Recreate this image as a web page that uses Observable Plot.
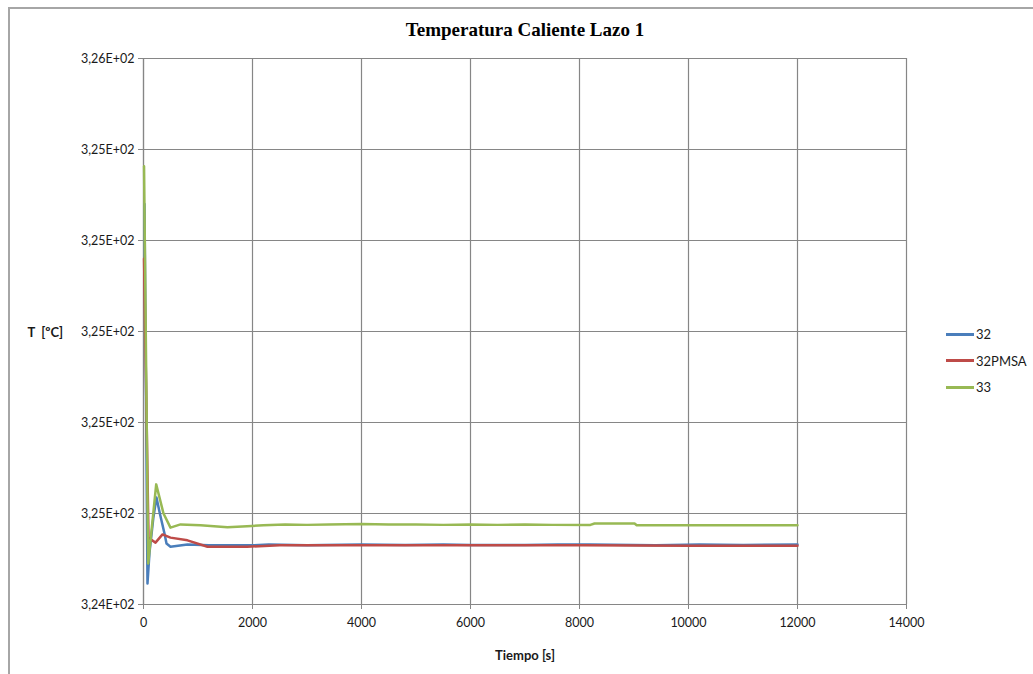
<!DOCTYPE html>
<html>
<head>
<meta charset="utf-8">
<script src="https://cdn.jsdelivr.net/npm/d3@7"></script>
<script src="https://cdn.jsdelivr.net/npm/@observablehq/plot@0.6"></script>
<style>
  html, body { margin: 0; padding: 0; background: #fff; }
  #wrap { position: relative; width: 1033px; height: 674px; overflow: hidden; }
  #frame { position: absolute; left: 8px; top: 7px; width: 1100px; height: 700px;
           border-top: 2px solid #a6a6a6; border-left: 2px solid #a6a6a6; }
  #chart { position: absolute; left: 0; top: 0; }
  #legend { position: absolute; left: 946px; top: 321px; font-family: Lato, sans-serif; font-size: 13px; color: #1a1a1a; }
  .item { display: flex; align-items: center; height: 26.5px; }
  .sw { width: 28px; height: 3px; margin-right: 2px; }
</style>
</head>
<body>
<div id="wrap">
  <div id="frame"></div>
  <div id="chart"></div>
  <div id="legend"></div>
</div>
<script>
// ---- data ----
const seriesNames = ["32", "32PMSA", "33"];
const seriesColors = ["#4a7ebb", "#be4b48", "#98b954"];

const t32 = [18, 73, 110, 180, 238, 300, 385, 422, 495, 807, 1200, 2000, 2300, 3000, 3300, 4000, 4800, 5500, 6000, 7000, 7600, 8200, 9400, 10200, 11000, 12000];
const v32 = [325.28, 324.446, 324.514, 324.59, 324.635, 324.60, 324.556, 324.534, 324.527, 324.532, 324.530, 324.530, 324.532, 324.530, 324.531, 324.532, 324.531, 324.532, 324.531, 324.531, 324.532, 324.532, 324.530, 324.532, 324.531, 324.532];

const tPMSA = [10, 92, 150, 220, 349, 495, 807, 1174, 1900, 2500, 4000, 6000, 8000, 10000, 12000];
const vPMSA = [325.16, 324.547, 324.542, 324.536, 324.554, 324.547, 324.541, 324.527, 324.527, 324.530, 324.530, 324.530, 324.530, 324.529, 324.529];

const t33 = [10, 86, 233, 367, 495, 679, 1046, 1541, 1900, 2200, 2600, 3000, 3400, 4000, 4500, 5000, 5500, 6000, 6500, 7000, 7500, 8200, 8275, 9010, 9050, 12000];
const v33 = [325.363, 324.490, 324.664, 324.600, 324.569, 324.576, 324.574, 324.570, 324.572, 324.574, 324.576, 324.575, 324.576, 324.577, 324.576, 324.576, 324.575, 324.576, 324.575, 324.576, 324.575, 324.575, 324.578, 324.578, 324.574, 324.574];

const xTicks = [0, 2000, 4000, 6000, 8000, 10000, 12000, 14000];
const yTicks = [324.4, 324.6, 324.8, 325.0, 325.2, 325.4, 325.6];

const titleText = "Temperatura Caliente Lazo 1";
const xLabel = "Tiempo [s]";
const yLabel = "T  [ºC]";

// ---- build table ----
const rows = [];
[[t32, v32], [tPMSA, vPMSA], [t33, v33]].forEach(([ts, vs], i) => {
  ts.forEach((t, j) => rows.push({ s: seriesNames[i], t, v: vs[j] }));
});

const fmtY = d => {
  const e = d.toExponential(2); // e.g. 3.25e+2
  const [m, ex] = e.split("e");
  const sign = ex[0] === "-" ? "-" : "+";
  const n = Math.abs(+ex);
  return m.replace(".", ",") + "E" + sign + String(n).padStart(2, "0");
};

const grid = "#868686";

const chart = Plot.plot({
  width: 1033,
  height: 674,
  marginLeft: 143,
  marginRight: 127,
  marginTop: 58,
  marginBottom: 70,
  style: { fontFamily: "Lato, sans-serif", fontSize: "12.5px", color: "#1a1a1a", background: "transparent" },
  x: { domain: [0, 14000] },
  y: { domain: [324.4, 325.6] },
  color: { domain: seriesNames, range: seriesColors },
  marks: [
    Plot.gridX(xTicks, { stroke: grid, strokeOpacity: 1, strokeWidth: 1.2 }),
    Plot.gridY(yTicks, { stroke: grid, strokeOpacity: 1, strokeWidth: 1.2 }),
    Plot.ruleX([0], { stroke: grid, strokeWidth: 1.2 }),
    Plot.ruleY([324.4], { stroke: grid, strokeWidth: 1.2 }),
    Plot.axisX({ ticks: xTicks, tickFormat: d => String(d), tickSize: 5, tickPadding: 9, stroke: grid, fill: "#1a1a1a", label: null }),
    Plot.axisY({ ticks: yTicks, tickFormat: fmtY, tickSize: 5, tickPadding: 4, stroke: grid, fill: "#1a1a1a", label: null }),
    Plot.line(rows, { x: "t", y: "v", z: "s", stroke: "s", strokeWidth: 2.5 }),
    Plot.text([titleText], { frameAnchor: "top", dy: -29, lineAnchor: "middle", text: d => d,
      fontFamily: "Liberation Serif, serif", fontWeight: "bold", fontSize: 19, fill: "#000" }),
    Plot.text([yLabel], { frameAnchor: "left", textAnchor: "start", dx: -116, dy: 1, lineAnchor: "middle", text: d => d,
      fontWeight: "bold", fontSize: 13, fill: "#1a1a1a" }),
    Plot.text([xLabel], { frameAnchor: "bottom", dy: 51, lineAnchor: "middle", text: d => d,
      fontWeight: "bold", fontSize: 13, fill: "#1a1a1a" })
  ]
});
document.getElementById("chart").appendChild(chart);

// ---- legend ----
const leg = document.getElementById("legend");
seriesNames.forEach((n, i) => {
  const it = document.createElement("div");
  it.className = "item";
  const sw = document.createElement("div");
  sw.className = "sw";
  sw.style.background = seriesColors[i];
  const lab = document.createElement("span");
  lab.textContent = n;
  it.appendChild(sw); it.appendChild(lab);
  leg.appendChild(it);
});
</script>
</body>
</html>
